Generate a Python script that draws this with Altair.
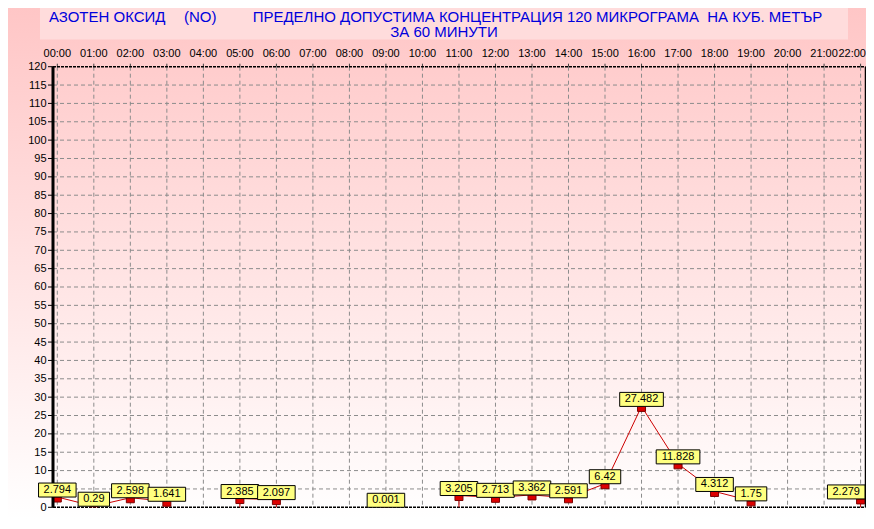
import altair as alt
import pandas as pd

# ---- data ----
hours = [0, 1, 2, 3, 5, 6, 9, 11, 12, 13, 14, 15, 16, 17, 18, 19, 22]
values = [2.794, 0.29, 2.598, 1.641, 2.385, 2.097, 0.001, 3.205, 2.713,
          3.362, 2.591, 6.42, 27.482, 11.828, 4.312, 1.75, 2.279]
labels = ["2.794", "0.29", "2.598", "1.641", "2.385", "2.097", "0.001", "3.205",
          "2.713", "3.362", "2.591", "6.42", "27.482", "11.828", "4.312", "1.75", "2.279"]
hour_ticks = list(range(0, 23))
hour_labels = ["00:00", "01:00", "02:00", "03:00", "04:00", "05:00", "06:00", "07:00",
               "08:00", "09:00", "10:00", "11:00", "12:00", "13:00", "14:00", "15:00",
               "16:00", "17:00", "18:00", "19:00", "20:00", "21:00", "22:00"]
y_ticks = list(range(0, 121, 5))
title_seg1 = "АЗОТЕН ОКСИД"
title_seg2 = "(NO)"
title_seg3 = "ПРЕДЕЛНО ДОПУСТИМА КОНЦЕНТРАЦИЯ 120 МИКРОГРАМА\u00a0 НА КУБ. МЕТЪР"
title_line2 = "ЗА 60 МИНУТИ"

# ---- layout ----
W, H = 812.5, 440.6
PAD = {"left": 45, "top": 58.7, "right": 0.5, "bottom": 12}
XDOM = [-0.118, 22.134]
YDOM = [0, 120]
PXH = W / (XDOM[1] - XDOM[0])
PXU = H / (YDOM[1] - YDOM[0])
FONT = "Liberation Sans"
RED = "#CC0000"
X0, Y0 = 53, 66.7  # page position of the plot origin

xs = alt.Scale(domain=XDOM, nice=False, zero=False)
ys = alt.Scale(domain=YDOM, nice=False, zero=False)

AY = alt.Axis(orient="left", values=y_ticks, grid=False, domain=False, ticks=False,
              labelExpr="datum.value == 5 ? '' : datum.label",
              labelFont=FONT, labelFontSize=11, labelColor="black",
              labelPadding=7, labelOverlap=False, title=None, zindex=1)

df = pd.DataFrame({"hour": hours, "value": values, "label": labels})
present = set(hours)
run, runs = 0, []
for i, h in enumerate(hours):
    if i > 0 and h - hours[i - 1] > 1:
        run += 1
    runs.append(run)
df["run"] = runs
df["drop"] = [((h - 1 >= 0 and (h - 1) not in present) or (h + 1 <= 22 and (h + 1) not in present))
              for h in hours]
df["zero"] = 0.0
RIGHT_LIMIT = XDOM[1] - 0.5 / PXH
tw = df["label"].str.len() * 6.12 - 3.06
half = (tw + 10) / 2 / PXH
shift = ((df["hour"] + half) - RIGHT_LIMIT).clip(lower=0)
df["bx0"] = df["hour"] - half - shift
df["bx1"] = df["hour"] + half - shift
df["tx"] = df["hour"] - shift
df["by1"] = df["value"] + 14 / PXU
df["mx0"] = df["hour"] - 4 / PXH
df["mx1"] = df["hour"] + 4 / PXH
df["my0"] = df["value"] - 5 / PXU

one = pd.DataFrame({"a": [0]})
grid_x = pd.DataFrame({"h": hour_ticks, "lab": hour_labels})
lhalf = (grid_x["lab"].str.len() * 6.12 - 3.06) / 2 / PXH
grid_x["lx"] = grid_x["h"] - ((grid_x["h"] + lhalf) - (XDOM[1] + 0.5 / PXH)).clip(lower=0)
grid_y = pd.DataFrame({"v": [v for v in y_ticks if 0 < v < 120]})
ticks_y = pd.DataFrame({"v": y_ticks})

bg = alt.Chart(one).mark_rect(
    fill=alt.Gradient(gradient="linear", x1=0, x2=0, y1=0, y2=1,
                      stops=[alt.GradientStop(color="#FFC6C6", offset=0),
                             alt.GradientStop(color="#FFFFFF", offset=1)])
).encode(x=alt.value(-PAD["left"]), x2=alt.value(W + PAD["right"]),
         y=alt.value(-PAD["top"]), y2=alt.value(H + PAD["bottom"]))

tbox = alt.Chart(one).mark_rect(fill="#FFDCDC").encode(
    x=alt.value(40 - X0), x2=alt.value(848 - X0), y=alt.value(4 - Y0), y2=alt.value(39.5 - Y0))

tstyle = dict(font=FONT, fontSize=15, color="#0000DD", baseline="alphabetic")
t1a = alt.Chart(one).mark_text(text=title_seg1, align="left", **tstyle).encode(
    x=alt.value(49 - X0), y=alt.value(21.8 - Y0))
t1b = alt.Chart(one).mark_text(text=title_seg2, align="left", **tstyle).encode(
    x=alt.value(184 - X0), y=alt.value(21.8 - Y0))
t1c = alt.Chart(one).mark_text(text=title_seg3, align="center", **tstyle).encode(
    x=alt.value(537.5 - X0), y=alt.value(21.8 - Y0))
t2 = alt.Chart(one).mark_text(text=title_line2, align="center", **tstyle).encode(
    x=alt.value(444 - X0), y=alt.value(37.5 - Y0))

vgrid = alt.Chart(grid_x).mark_rule(color="#8C8C8C", strokeDash=[4, 3], strokeWidth=1).encode(
    x=alt.X("h:Q", scale=xs, axis=None), y=alt.value(0), y2=alt.value(H))
hgrid = alt.Chart(grid_y).mark_rule(color="#8C8C8C", strokeDash=[4, 3], strokeWidth=1).encode(
    y=alt.Y("v:Q", scale=ys, axis=AY), x=alt.value(0), x2=alt.value(W))

xticks = alt.Chart(grid_x).mark_rule(color="#404040", strokeWidth=1).encode(
    x=alt.X("h:Q", scale=xs, axis=None), y=alt.value(-3), y2=alt.value(0))
xlabels = alt.Chart(grid_x).mark_text(font=FONT, fontSize=11, color="black",
                                      baseline="alphabetic", align="center").encode(
    x=alt.X("lx:Q", scale=xs, axis=None), y=alt.value(-9.4), text="lab:N")
yticks = alt.Chart(ticks_y).mark_rule(color="black", strokeWidth=1).encode(
    y=alt.Y("v:Q", scale=ys, axis=AY), x=alt.value(-5), x2=alt.value(0))

top_border = alt.Chart(one).mark_rule(color="black", strokeDash=[3, 1], strokeWidth=1.5).encode(
    x=alt.value(0), x2=alt.value(W), y=alt.value(0))
bot_border = alt.Chart(one).mark_rule(color="black", strokeDash=[3, 1], strokeWidth=1.5).encode(
    x=alt.value(0), x2=alt.value(W), y=alt.value(H))
right_border = alt.Chart(one).mark_rule(color="black", strokeWidth=1.5).encode(
    x=alt.value(W), y=alt.value(0), y2=alt.value(H))

line = alt.Chart(df).mark_line(color=RED, strokeWidth=1).encode(
    x=alt.X("hour:Q", scale=xs, axis=None),
    y=alt.Y("value:Q", scale=ys, axis=AY),
    detail="run:N")

drops = alt.Chart(df).transform_filter("datum.drop").mark_rule(color=RED, strokeWidth=1).encode(
    x=alt.X("hour:Q", scale=xs, axis=None), y=alt.Y("value:Q", scale=ys, axis=AY), y2="zero:Q")

markers = alt.Chart(df).mark_rect(fill="#DD0000", stroke="#7A0000", strokeWidth=1, clip=True).encode(
    x=alt.X("mx0:Q", scale=xs, axis=None), x2="mx1:Q",
    y=alt.Y("value:Q", scale=ys, axis=AY), y2="my0:Q")

left_axis = alt.Chart(one).mark_rule(color="black", strokeWidth=3).encode(
    x=alt.value(0), y=alt.value(0), y2=alt.value(H))

boxes = alt.Chart(df).mark_rect(fill="#FFFF80", stroke="black", strokeWidth=1).encode(
    x=alt.X("bx0:Q", scale=xs, axis=None), x2="bx1:Q",
    y=alt.Y("by1:Q", scale=ys, axis=AY), y2="value:Q")

texts = alt.Chart(df).mark_text(font=FONT, fontSize=11, color="black", baseline="middle",
                                align="center", dy=-7).encode(
    x=alt.X("tx:Q", scale=xs, axis=None), y=alt.Y("value:Q", scale=ys, axis=AY), text="label:N")

chart = alt.layer(bg, tbox, t1a, t1b, t1c, t2, vgrid, hgrid, xticks, xlabels, yticks,
                  top_border, bot_border, right_border,
                  line, drops, markers, left_axis, boxes, texts).properties(
    width=W, height=H,
    autosize=alt.AutoSizeParams(type="none"),
    padding=PAD,
).configure_view(stroke=None)

chart.save("out.html", embed_options={"renderer": "svg", "actions": False})
